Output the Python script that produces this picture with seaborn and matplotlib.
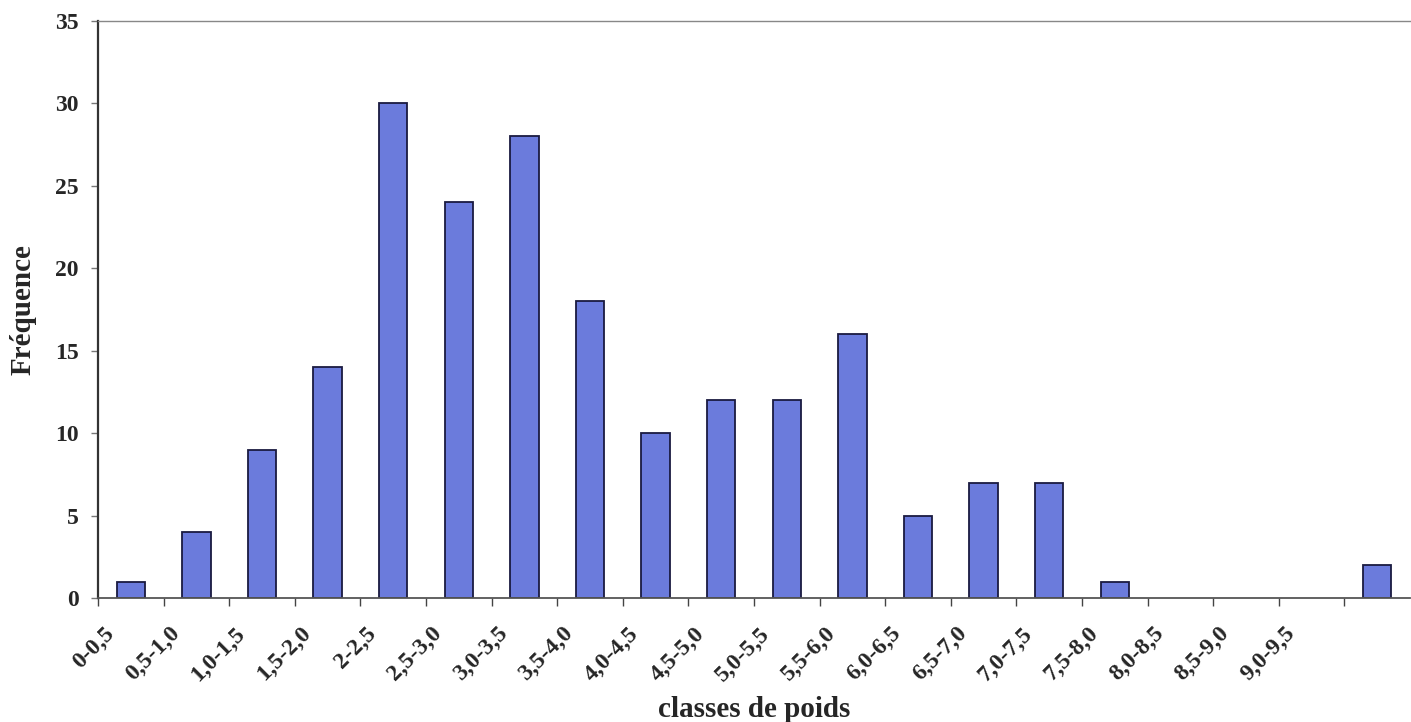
import matplotlib
matplotlib.use("Agg")
import matplotlib.pyplot as plt
import seaborn as sns
import pandas as pd
import numpy as np

# Weight classes (kg) and number of individuals in each class
classes = ["0-0,5", "0,5-1,0", "1,0-1,5", "1,5-2,0", "2-2,5", "2,5-3,0",
           "3,0-3,5", "3,5-4,0", "4,0-4,5", "4,5-5,0", "5,0-5,5", "5,5-6,0",
           "6,0-6,5", "6,5-7,0", "7,0-7,5", "7,5-8,0", "8,0-8,5", "8,5-9,0",
           "9,0-9,5", ""]
frequences = [1, 4, 9, 14, 30, 24, 28, 18, 10, 12, 12, 16, 5, 7, 7, 1, 0, 0, 0, 2]
y_ticks = [0, 5, 10, 15, 20, 25, 30, 35]

sns.set_theme(style="white")
plt.rcParams["font.family"] = ["Liberation Serif", "DejaVu Serif"]
plt.rcParams["font.weight"] = "bold"

n = len(classes)
df = pd.DataFrame({"pos": [str(i) for i in range(n)], "freq": frequences})

fig = plt.figure(figsize=(14.11, 7.22), dpi=100)
ax = fig.add_axes([98 / 1411, 1 - 598 / 722, (1410 - 98) / 1411, (598 - 21) / 722])

sns.barplot(data=df, x="pos", y="freq", order=df["pos"], color="#6B7BDC",
            saturation=1, edgecolor="#1a1a40", linewidth=1.3, width=0.43, ax=ax)
# empty classes show no outline on the axis
for p in ax.patches:
    if p.get_height() == 0:
        p.set_linewidth(0)

ax.set_xlim(-0.5, n - 0.5)
ax.set_ylim(0, 35)
ax.set_yticks(y_ticks)
ax.set_yticklabels([str(v) for v in y_ticks], fontsize=17, fontweight="bold")

# category boundaries carry the tick marks, labels sit left of bar centres
ax.set_xticks(np.arange(n) - 0.5, minor=True)
ax.set_xticks(np.arange(n) - 0.42)
ax.set_xticklabels(classes, rotation=45, ha="right", va="top",
                   rotation_mode="anchor", fontsize=17, fontweight="bold")
ax.tick_params(axis="x", which="major", length=0, pad=18)
ax.tick_params(axis="x", which="minor", length=6, width=1, color="#444444",
               direction="out", bottom=True)
ax.tick_params(axis="y", length=5, width=1, color="#777777", direction="out",
               left=True, pad=9)

ax.set_xlabel("classes de poids", fontsize=21, fontweight="bold")
ax.xaxis.set_label_coords(0.5, -0.17)
ax.set_ylabel("Fréquence", fontsize=21, fontweight="bold")
ax.yaxis.set_label_coords(-0.047, 0.5)

for side, col, lw in [("left", "#333333", 1.6), ("bottom", "#555555", 1.3),
                      ("top", "#888888", 1.0)]:
    ax.spines[side].set_visible(True)
    ax.spines[side].set_color(col)
    ax.spines[side].set_linewidth(lw)
ax.spines["right"].set_visible(False)

fig.savefig("out.png", dpi=100)
